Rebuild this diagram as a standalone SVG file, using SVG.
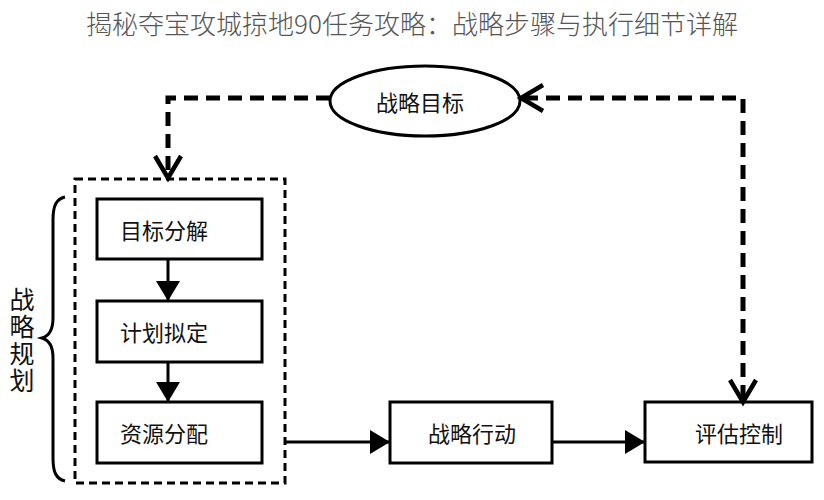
<svg xmlns="http://www.w3.org/2000/svg" width="824" height="500" viewBox="0 0 824 500">
<style>
.t{font-family:"Noto Sans CJK SC","Noto Sans",sans-serif;fill:#111;font-size:22px;text-anchor:middle;dominant-baseline:central}
.box{fill:#fff;stroke:#000;stroke-width:3}
.ln{fill:none;stroke:#000;stroke-width:3}
.dash{fill:none;stroke:#000;stroke-width:5;stroke-dasharray:14 8}
.open{fill:none;stroke:#000;stroke-width:4.5}
</style>
<defs>
<marker id="tri" viewBox="0 0 20 24" refX="20" refY="12" markerWidth="20" markerHeight="24" markerUnits="userSpaceOnUse" orient="auto">
<path d="M0,0 L20,12 L0,24 Z" fill="#000"/>
</marker>
</defs>
<rect width="824" height="500" fill="#fff"/>
<text x="412" y="22" font-family="'Noto Sans CJK SC','Noto Sans',sans-serif" font-size="26" font-weight="300" fill="#555" text-anchor="middle" dominant-baseline="central">揭秘夺宝攻城掠地90任务攻略：战略步骤与执行细节详解</text>

<g id="group-planning">
<rect x="75" y="179" width="210" height="304" fill="none" stroke="#000" stroke-width="3" stroke-dasharray="8 5"/>
<path class="ln" d="M65,197 C56,199 53,206 53,220 L53,318 C53,330 49,336 42,338 C49,340 53,346 53,358 L53,458 C53,472 56,479 65,481"/>
<text x="22" y="341" font-family="'Noto Sans CJK SC','Noto Sans',sans-serif" font-size="25" fill="#111" writing-mode="vertical-rl" letter-spacing="2" text-anchor="middle">战略规划</text>
</g>

<g id="node-goal">
<ellipse cx="425" cy="101" rx="95" ry="35" fill="#fff" stroke="#000" stroke-width="3"/>
<text class="t" x="420" y="101">战略目标</text>
</g>
<g id="node-decompose">
<rect class="box" x="97" y="199" width="165" height="60"/>
<text class="t" x="164" y="229">目标分解</text>
</g>
<g id="node-plan">
<rect class="box" x="97" y="301" width="165" height="61"/>
<text class="t" x="164" y="331">计划拟定</text>
</g>
<g id="node-resource">
<rect class="box" x="97" y="402" width="165" height="61"/>
<text class="t" x="164" y="432">资源分配</text>
</g>
<g id="node-action">
<rect class="box" x="390" y="402" width="162" height="61"/>
<text class="t" x="472" y="432">战略行动</text>
</g>
<g id="node-eval">
<rect class="box" x="645" y="402" width="167" height="60"/>
<text class="t" x="739" y="432">评估控制</text>
</g>

<g id="connectors">
<line class="ln" x1="168" y1="259" x2="168" y2="301" marker-end="url(#tri)"/>
<line class="ln" x1="168" y1="362" x2="168" y2="402" marker-end="url(#tri)"/>
<line class="ln" x1="285" y1="442" x2="390" y2="442" marker-end="url(#tri)"/>
<line class="ln" x1="552" y1="442" x2="645" y2="442" marker-end="url(#tri)"/>
<path class="dash" d="M330,98 L168,98 L168,176"/>
<path class="open" d="M155,156 L168,178 L181,156"/>
<path class="dash" d="M524,98 L743,98 L743,400"/>
<path class="open" d="M543,85 L521,98 L543,111"/>
<path class="open" d="M730,380 L743,402 L756,380"/>
</g>
</svg>
